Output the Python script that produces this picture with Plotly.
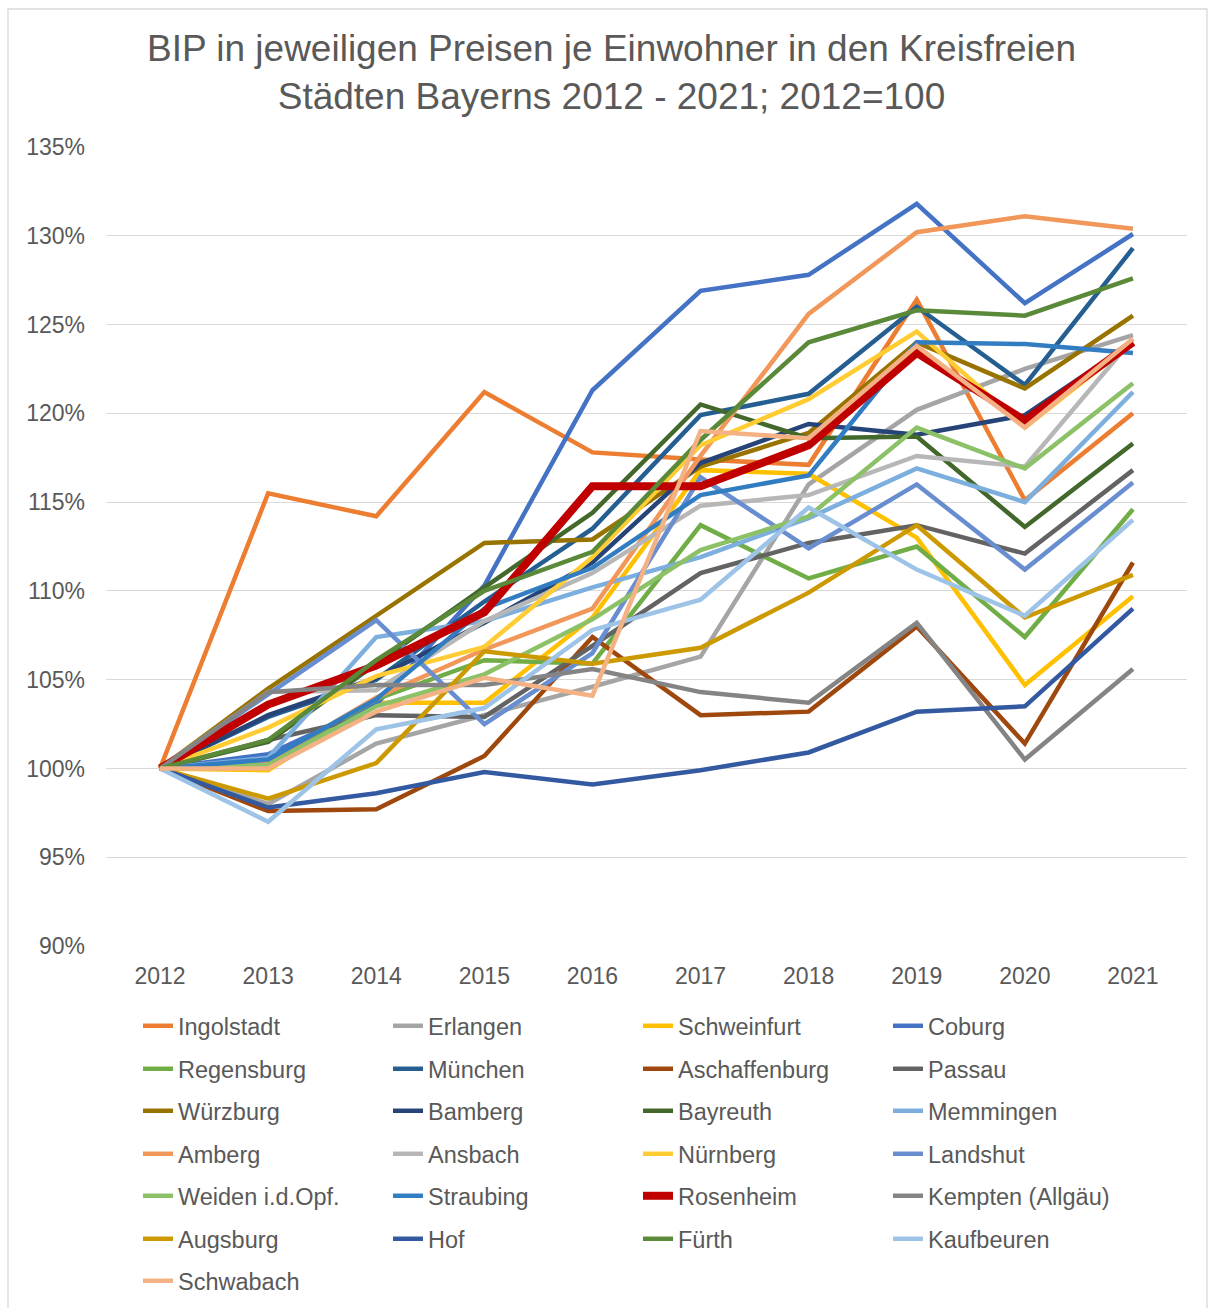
import plotly.graph_objects as go

years = ["2012", "2013", "2014", "2015", "2016", "2017", "2018", "2019", "2020", "2021"]

cities = ["Ingolstadt", "Erlangen", "Schweinfurt", "Coburg",
          "Regensburg", "München", "Aschaffenburg", "Passau",
          "Würzburg", "Bamberg", "Bayreuth", "Memmingen",
          "Amberg", "Ansbach", "Nürnberg", "Landshut",
          "Weiden i.d.Opf.", "Straubing", "Rosenheim", "Kempten (Allgäu)",
          "Augsburg", "Hof", "Fürth", "Kaufbeuren",
          "Schwabach"]

ingolstadt = [100, 115.5, 114.2, 121.2, 117.8, 117.4, 117.1, 126.4, 115.1, 120.0]
erlangen = [100, 98.0, 101.4, 103.0, 104.6, 106.3, 116.0, 120.2, 122.5, 124.4]
schweinfurt = [100, 99.9, 103.7, 103.7, 108.5, 116.8, 116.6, 113.0, 104.7, 109.7]
coburg = [100, 100.8, 103.6, 110.3, 121.3, 126.9, 127.8, 131.8, 126.2, 130.1]
regensburg = [100, 100.3, 103.9, 106.1, 105.9, 113.7, 110.7, 112.5, 107.4, 114.6]
muenchen = [100, 102.9, 105.0, 109.4, 113.5, 119.9, 121.1, 126.0, 121.6, 129.3]
aschaffenburg = [100, 97.6, 97.7, 100.7, 107.4, 103.0, 103.2, 108.0, 101.4, 111.6]
passau = [100, 101.6, 103.0, 102.9, 106.9, 111.0, 112.7, 113.7, 112.1, 116.8]
wuerzburg = [100, 104.5, 108.6, 112.7, 112.9, 117.0, 118.9, 124.0, 121.4, 125.5]
bamberg = [100, 103.0, 105.1, 108.2, 111.6, 117.2, 119.4, 118.8, 119.9, 124.0]
bayreuth = [100, 101.5, 105.9, 110.2, 114.4, 120.5, 118.6, 118.7, 113.6, 118.3]
memmingen = [100, 100.6, 107.4, 108.3, 110.2, 111.9, 114.1, 116.9, 115.0, 121.2]
amberg = [100, 100.4, 104.0, 106.7, 109.0, 117.6, 125.6, 130.2, 131.1, 130.4]
ansbach = [100, 104.3, 104.4, 108.3, 111.0, 114.8, 115.4, 117.6, 117.0, 124.2]
nuernberg = [100, 102.3, 105.2, 106.85, 111.9, 118.2, 120.8, 124.6, 119.2, 124.0]
landshut = [100, 104.2, 108.35, 102.5, 106.5, 116.4, 112.4, 116.0, 111.2, 116.1]
weiden = [100, 100.2, 103.5, 105.3, 108.4, 112.3, 114.2, 119.2, 116.9, 121.7]
straubing = [100, 100.5, 103.9, 109.0, 111.3, 115.4, 116.5, 124.0, 123.9, 123.4]
rosenheim = [100, 103.6, 105.8, 108.8, 115.9, 115.9, 118.2, 123.4, 119.6, 124.0]
kempten = [100, 104.3, 104.7, 104.7, 105.6, 104.3, 103.7, 108.2, 100.5, 105.6]
augsburg = [100, 98.3, 100.3, 106.6, 105.9, 106.8, 109.9, 113.7, 108.5, 110.9]
hof = [100, 97.8, 98.6, 99.8, 99.1, 99.9, 100.9, 103.2, 103.5, 109.0]
fuerth = [100, 101.6, 106.1, 110.0, 112.2, 118.5, 124.0, 125.8, 125.5, 127.6]
kaufbeuren = [100, 97.0, 102.2, 103.4, 107.8, 109.5, 114.7, 111.2, 108.6, 114.0]
schwabach = [100, 100.0, 103.2, 105.1, 104.1, 119.0, 118.6, 123.8, 119.2, 124.2]

series = [ingolstadt, erlangen, schweinfurt, coburg,
          regensburg, muenchen, aschaffenburg, passau,
          wuerzburg, bamberg, bayreuth, memmingen,
          amberg, ansbach, nuernberg, landshut,
          weiden, straubing, rosenheim, kempten,
          augsburg, hof, fuerth, kaufbeuren,
          schwabach]

colors = ["#ED7D31", "#A5A5A5", "#FFC000", "#4472C4",
          "#70AD47", "#255E91", "#9E480E", "#636363",
          "#997300", "#264478", "#43682B", "#7CAFDD",
          "#F1975A", "#B7B7B7", "#FFCD33", "#698ED0",
          "#8CC168", "#327DC2", "#C00000", "#848484",
          "#CC9A00", "#335AA1", "#5A8A39", "#9DC3E6",
          "#F4B183"]

y_ticks = [90, 95, 100, 105, 110, 115, 120, 125, 130, 135]
y_tick_labels = ["90%", "95%", "100%", "105%", "110%", "115%", "120%", "125%", "130%", "135%"]

W, H = 1212, 1308
PL, PR, PT, PB = 106, 1187, 147, 946
pw, ph = PR - PL, PB - PT

def px_x(x):
    return (x - PL) / pw

def px_y(y):
    return (PB - y) / ph

fig = go.Figure()
for i, (name, vals, col) in enumerate(zip(cities, series, colors)):
    row = i // 4
    leg = "legend" if row == 0 else f"legend{row + 1}"
    fig.add_trace(go.Scatter(
        x=years, y=vals, name=name, mode="lines",
        line=dict(color=col, width=8 if name == "Rosenheim" else 4.5),
        legend=leg,
    ))

text_col = "#595959"
font_family = "Liberation Sans, Arial, sans-serif"

row_centers = [1026, 1069, 1111, 1154, 1196, 1239, 1281]
legends = {}
for r, yc in enumerate(row_centers):
    key = "legend" if r == 0 else f"legend{r + 1}"
    legends[key] = dict(
        orientation="h", xref="container", yref="container",
        x=138 / W, xanchor="left",
        y=1 - yc / H, yanchor="middle",
        entrywidth=205, entrywidthmode="pixels",
        font=dict(size=23.5, color=text_col, family=font_family),
        bgcolor="rgba(0,0,0,0)", borderwidth=0,
    )

fig.update_layout(
    width=W, height=H,
    margin=dict(l=PL, r=W - PR, t=PT, b=H - PB, autoexpand=False),
    paper_bgcolor="white", plot_bgcolor="white",
    font=dict(family=font_family, color=text_col),
    title=dict(
        text="BIP in jeweiligen Preisen je Einwohner in den Kreisfreien<br>Städten Bayerns 2012 - 2021; 2012=100",
        x=611.5 / W, xref="container", xanchor="center",
        y=1 - 60.5 / H, yref="container", yanchor="middle",
        font=dict(size=37, color=text_col, family=font_family),
    ),
    xaxis=dict(
        type="category", range=[-0.5, 9.5],
        showgrid=False, zeroline=False, showline=False,
        ticks="", tickfont=dict(size=23, color=text_col),
        ticklabelstandoff=14,
    ),
    yaxis=dict(
        range=[90, 135], tickmode="array", tickvals=y_ticks, ticktext=y_tick_labels,
        showgrid=True, gridcolor="#D9D9D9", gridwidth=1.3,
        zeroline=False, showline=False, ticks="",
        tickfont=dict(size=23, color=text_col),
        ticklabelstandoff=20,
    ),
    showlegend=True,
    shapes=[dict(
        type="rect", xref="paper", yref="paper",
        x0=px_x(8), x1=px_x(1207), y0=px_y(1330), y1=px_y(9),
        line=dict(color="#D9D9D9", width=1.3), fillcolor="rgba(0,0,0,0)",
        layer="below",
    )],
    **legends,
)

fig.write_html("out.html", config={"displayModeBar": False})

with open("out.html", "r", encoding="utf-8") as f:
    html = f.read()
html = html.replace("<head>", "<head><style>html,body{margin:0;padding:0;overflow:hidden;}</style>", 1)
with open("out.html", "w", encoding="utf-8") as f:
    f.write(html)
